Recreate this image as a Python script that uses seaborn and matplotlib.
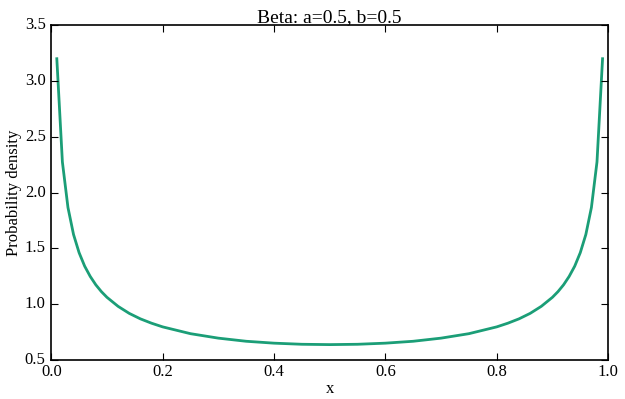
import matplotlib
matplotlib.use("Agg")
import matplotlib.pyplot as plt
import seaborn as sns
import pandas as pd

x_left = [0.01, 0.02, 0.03, 0.04, 0.05, 0.06, 0.07, 0.08, 0.09, 0.10,
          0.12, 0.14, 0.16, 0.18, 0.20, 0.25, 0.30, 0.35, 0.40, 0.45]
y_left = [3.199, 2.274, 1.866, 1.624, 1.461, 1.340, 1.248, 1.173, 1.112, 1.061,
          0.980, 0.917, 0.868, 0.829, 0.796, 0.735, 0.695, 0.667, 0.650, 0.640]
x_mid = [0.50]
y_mid = [0.637]

x_vals = x_left + x_mid + [round(1 - v, 2) for v in reversed(x_left)]
y_vals = y_left + y_mid + list(reversed(y_left))

df = pd.DataFrame({"x": x_vals, "density": y_vals})

plt.style.use("classic")
plt.rcParams["font.family"] = ["Liberation Serif", "DejaVu Serif"]
plt.rcParams["mathtext.fontset"] = "stix"

fig = plt.figure(figsize=(6.25, 3.99), dpi=100, facecolor="white")
ax = fig.add_axes([0.082, 0.098, 0.891, 0.839])
sns.lineplot(data=df, x="x", y="density", ax=ax, color="#1b9e77", linewidth=2, sort=False)

ax.set_xlim(0, 1)
ax.set_ylim(0.5, 3.5)
ax.set_xticks([0.0, 0.2, 0.4, 0.6, 0.8, 1.0])
ax.set_yticks([0.5, 1.0, 1.5, 2.0, 2.5, 3.0, 3.5])
ax.set_xticklabels(["0.0", "0.2", "0.4", "0.6", "0.8", "1.0"])
ax.set_yticklabels(["0.5", "1.0", "1.5", "2.0", "2.5", "3.0", "3.5"])
ax.tick_params(which="major", direction="in", top=True, right=True, bottom=True, left=True,
               labelsize=12, length=5, width=0.8, colors="black", labelcolor="black")
ax.tick_params(axis="x", pad=3)
ax.tick_params(axis="y", pad=4)
for s in ax.spines.values():
    s.set_visible(True)
    s.set_linewidth(1.2)
    s.set_color("black")
ax.set_xlabel("x", fontsize=12, color="black", labelpad=1)
ax.set_ylabel("Probability density", fontsize=12, color="black", labelpad=2)
ax.set_title("Beta: a=0.5, b=0.5", fontsize=14, pad=2, color="black")
ax.grid(False)
fig.savefig("out.png", dpi=100, facecolor="white")
